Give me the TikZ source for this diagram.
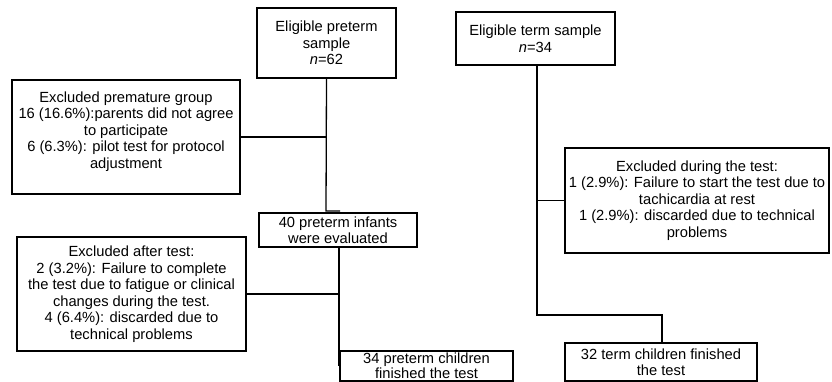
\documentclass[tikz,border=0pt]{standalone}
\usepackage{fontspec}
\setmainfont{Liberation Sans}
\begin{document}
\begin{tikzpicture}[x=1pt,y=-1pt,
  box/.style={draw, line width=1.3pt, inner sep=0pt, align=center, font=\fontsize{14.7}{16.5}\selectfont},
  txt/.style={inner sep=0pt, align=center, font=\fontsize{14.7}{16.5}\selectfont},
  conn/.style={line width=1.3pt}]
\useasboundingbox (0,0) rectangle (832,382);
\clip (0,0) rectangle (832,382);
% preterm column
\node[box, minimum width=139pt, minimum height=70pt] (A) at (326.5,43) {Eligible preterm\\sample\\\textit{n}=62};
\node[box, minimum width=228pt, minimum height=114pt] (B) at (126,137) {};
\node[txt] (Bt) at (126,131.5) {Excluded premature group\\16 (16.6\%):parents did not agree\\to participate\\6 (6.3\%): pilot test for protocol\\adjustment};
\node[box, minimum width=158pt, minimum height=34pt] (D) at (338,230) {40 preterm infants\\were evaluated};
\node[box, minimum width=229pt, minimum height=114pt] (C) at (131.5,294) {Excluded after test:\\2 (3.2\%): Failure to complete\\the test due to fatigue or clinical\\changes during the test.\\4 (6.4\%): discarded due to\\technical problems};
\node[box, minimum width=173pt, minimum height=30pt, font=\fontsize{14.7}{12}\selectfont] (E) at (426.5,366) {34 preterm children\\finished the test};
% term column
\node[box, minimum width=159pt, minimum height=53pt] (F) at (535.5,38.5) {Eligible term sample\\\textit{n}=34};
\node[box, minimum width=264pt, minimum height=105pt] (G) at (697,200.5) {Excluded during the test:\\1 (2.9\%): Failure to start the test due to\\tachicardia at rest\\1 (2.9\%): discarded due to technical\\problems};
\node[box, minimum width=192pt, minimum height=38pt] (H) at (661,362) {32 term children finished\\the test};
% coordinates
\coordinate (j1) at (326,211);
\coordinate (j2) at (340,211);
\coordinate (d1) at (339,366);
\coordinate (t1) at (537,315);
\coordinate (t2) at (662,315);
% connectors
\draw[conn] (A.south) -- (j1) -- (j2);
\draw[conn] (B.east) -- (B.east -| A.south);
\draw[conn] (D.south -| d1) -- (d1);
\draw[conn] (C.east) -- (C.east -| d1);
\draw[conn] (F.south -| t1) -- (t1) -- (t2) -- (H.north -| t2);
\draw[conn] (G.west) -- (G.west -| t1);
\end{tikzpicture}
\end{document}
